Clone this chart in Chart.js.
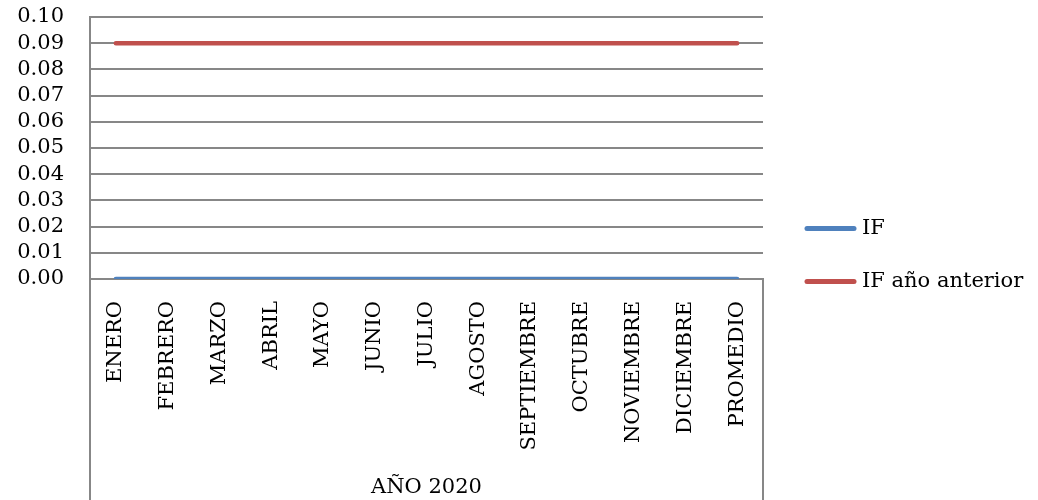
<!DOCTYPE html>
<html>
<head>
<meta charset="utf-8">
<script src="https://cdn.jsdelivr.net/npm/chart.js@4"></script>
<style>
  html, body { margin: 0; padding: 0; background: #fff; }
  #wrap { width: 1038px; height: 500px; }
</style>
</head>
<body>
<div id="wrap"><canvas id="grafica"></canvas></div>
<script>
// datos
const meses = ['ENERO', 'FEBRERO', 'MARZO', 'ABRIL', 'MAYO', 'JUNIO', 'JULIO', 'AGOSTO',
               'SEPTIEMBRE', 'OCTUBRE', 'NOVIEMBRE', 'DICIEMBRE', 'PROMEDIO'];
const valoresIF = [0, 0, 0, 0, 0, 0, 0, 0, 0, 0, 0, 0, 0];
const valoresIFAnterior = [0.09, 0.09, 0.09, 0.09, 0.09, 0.09, 0.09, 0.09, 0.09, 0.09, 0.09, 0.09, 0.09];
const tituloEje = 'AÑO 2020';

const FUENTE = '"DejaVu Serif", serif';
const GRIS = '#878787';

// lineas verticales de la caja del eje de categorias (hasta abajo del lienzo)
const cajaEje = {
    id: 'cajaEje',
    afterDraw(chart) {
        const { ctx, chartArea, scales } = chart;
        ctx.save();
        ctx.strokeStyle = GRIS;
        ctx.lineWidth = 2;
        ctx.beginPath();
        ctx.moveTo(scales.x.left, chartArea.bottom);
        ctx.lineTo(scales.x.left, chart.height);
        ctx.moveTo(scales.x.right, chartArea.bottom);
        ctx.lineTo(scales.x.right, chart.height);
        ctx.stroke();
        ctx.restore();
    }
};

// leyenda a la derecha, separada del area de trazado
const leyendaDerecha = {
    id: 'leyendaDerecha',
    afterDraw(chart) {
        const { ctx, chartArea } = chart;
        const sets = chart.data.datasets;
        const x0 = chartArea.right + 42;
        const paso = 53;
        ctx.save();
        ctx.font = '21px ' + FUENTE;
        ctx.textBaseline = 'middle';
        ctx.lineCap = 'round';
        sets.forEach((ds, i) => {
            const y = chart.height / 2 + 5 + (i - (sets.length - 1) / 2) * paso;
            ctx.strokeStyle = ds.borderColor;
            ctx.lineWidth = 5;
            ctx.beginPath();
            ctx.moveTo(x0 + 2, y);
            ctx.lineTo(x0 + 49, y);
            ctx.stroke();
            ctx.fillStyle = '#000';
            ctx.fillText(ds.label, x0 + 57, y);
        });
        ctx.restore();
    }
};

new Chart(document.getElementById('grafica'), {
    type: 'line',
    data: {
        labels: meses,
        datasets: [
            { label: 'IF', data: valoresIF, borderColor: '#4F81BD', backgroundColor: '#4F81BD',
              borderWidth: 4.5, pointRadius: 0, borderCapStyle: 'round' },
            { label: 'IF año anterior', data: valoresIFAnterior, borderColor: '#C0504D', backgroundColor: '#C0504D',
              borderWidth: 4.5, pointRadius: 0, borderCapStyle: 'round' }
        ]
    },
    options: {
        responsive: true,
        maintainAspectRatio: false,
        animation: false,
        layout: { padding: { top: 17, left: 0, right: 275, bottom: 0 } },
        scales: {
            x: {
                offset: true,
                grid: { display: false },
                border: { display: true, color: GRIS, width: 2 },
                ticks: { color: '#000', font: { family: FUENTE, size: 21 }, minRotation: 90, maxRotation: 90, padding: 14, autoSkip: false },
                title: { display: true, text: tituloEje, color: '#000', font: { family: FUENTE, size: 21 }, padding: { top: 0, bottom: 0 } },
                afterFit: (escala) => { escala.height = 221; }
            },
            y: {
                min: 0, max: 0.1,
                grid: { color: GRIS, lineWidth: 2, drawTicks: false },
                border: { display: true, color: GRIS, width: 2 },
                ticks: { stepSize: 0.01, autoSkip: false, color: '#000', font: { family: FUENTE, size: 21 }, padding: 26,
                         callback: (v) => v.toFixed(2) },
                afterFit: (escala) => { escala.width = 90; escala.paddingTop = 0; escala.paddingBottom = 0; }
            }
        },
        plugins: {
            legend: { display: false },
            tooltip: { enabled: false }
        }
    },
    plugins: [cajaEje, leyendaDerecha]
});
</script>
</body>
</html>
